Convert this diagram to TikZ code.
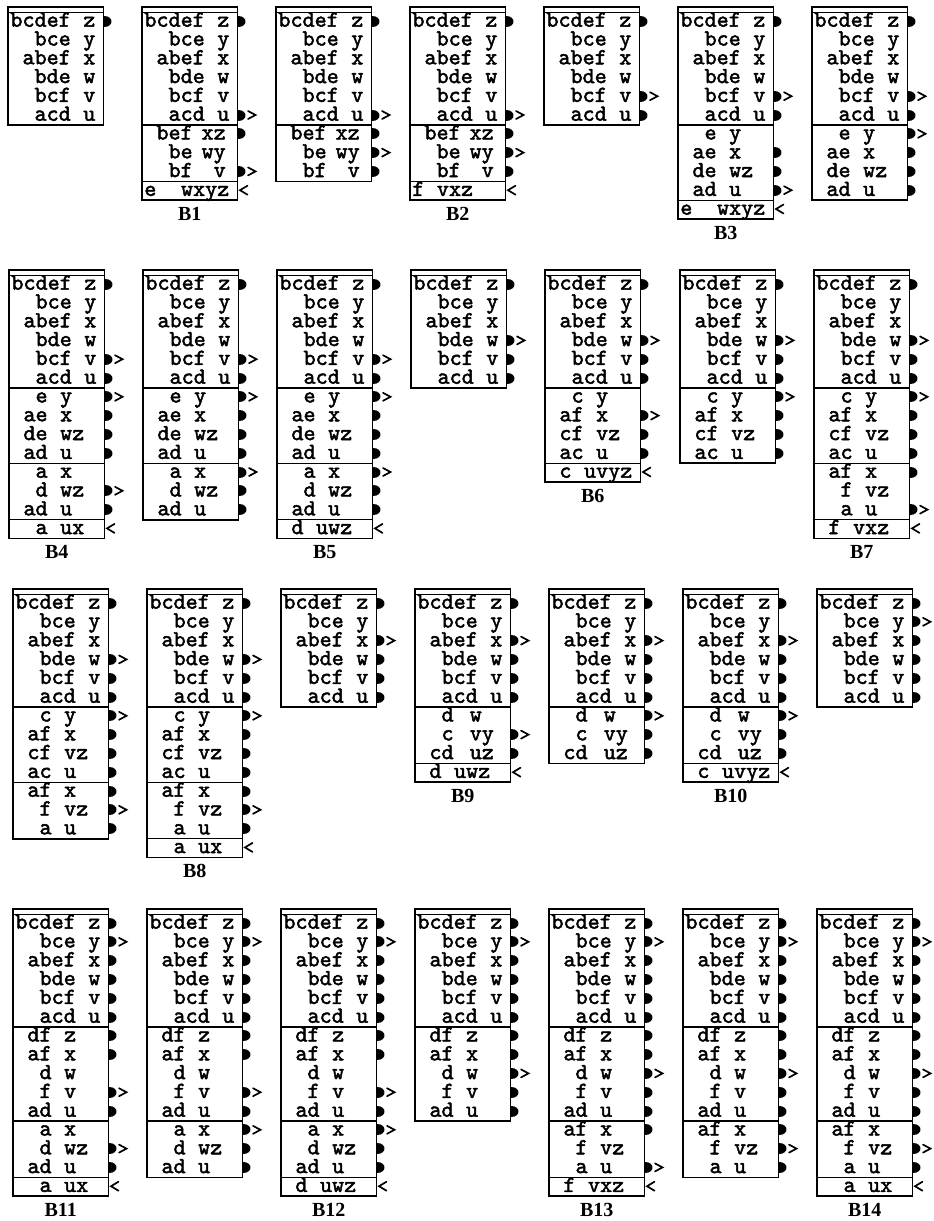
\documentclass[tikz,border=0pt]{standalone}
\usepackage{fontspec}
\newfontfamily\fdtt{lmmono10-regular.otf}[FakeBold=2]
\newfontfamily\labfont{Liberation Serif}
\newcounter{nd}
\tikzset{
  ttxt/.style={inner sep=0pt, text height=11pt, text depth=3pt, font=\fontsize{23}{23}\fdtt},
  labtxt/.style={inner sep=0pt, font=\fontsize{20}{20}\labfont\bfseries},
  boxline/.style={line width=1.8pt},
  sepline/.style={line width=1.4pt},
  mkline/.style={line width=1.7pt, line cap=round},
}
\def\cw{12.1}
\def\bw{95.5}
\def\rh{18.8}
\newcommand\tstart[2]{\xdef\tl{#1}\xdef\ttop{#2}\pgfmathsetmacro\tmp{#2+5.2}\xdef\ty{\tmp}}
\newcommand\mD[1]{\fill (\tl+\bw+0.5,#1-5.5) .. controls (\tl+\bw+10.5,#1-5.5) and (\tl+\bw+10.5,#1+5.5) .. (\tl+\bw+0.5,#1+5.5) -- cycle;}
\newcommand\mA[1]{\mD{#1}\draw[mkline] (\tl+\bw+10.5,#1-4) -- (\tl+\bw+18,#1) -- (\tl+\bw+10.5,#1+4);}
\newcommand\mL[1]{\draw[mkline] (\tl+\bw+10,#1-4.5) -- (\tl+\bw+2.5,#1) -- (\tl+\bw+10,#1+4.5);}
\newcommand\mN[1]{}
\newcommand\putrow[5]{%
  \stepcounter{nd}\node[ttxt,anchor=base east] (n\arabic{nd}) at (\tl+2.5+#4*\cw,\ty+14.5) {#1};
  \stepcounter{nd}\node[ttxt,anchor=base west] (n\arabic{nd}) at (\tl+2.5+#5*\cw,\ty+14.5) {#2};
  \csname m#3\endcsname{\ty+8.8}
  \pgfmathsetmacro\tmp{\ty+\rh}\xdef\ty{\tmp}}
\newcommand\srow[3]{\putrow{#1}{#2}{#3}{5}{6}}
\def\la{3}\def\lb{4}
\newcommand\lrow[3]{\putrow{#1}{#2}{#3}{\la}{\lb}}
\newcommand\hsep{\draw[sepline] (\tl,\ty) -- (\tl+\bw,\ty);}
\newcommand\secone[6]{\srow{bcdef}{z}{#1}\srow{bce}{y}{#2}\srow{abef}{x}{#3}\srow{bde}{w}{#4}\srow{bcf}{v}{#5}\srow{acd}{u}{#6}}
\newcommand\secBEF[3]{\hsep\def\la{4}\def\lb{4.7}\lrow{bef}{xz}{#1}\lrow{be}{wy}{#2}\lrow{bf}{\ v}{#3}}
\newcommand\secE[4]{\hsep\def\la{3}\def\lb{4}\lrow{e}{y}{#1}\lrow{ae}{x}{#2}\lrow{de}{wz}{#3}\lrow{ad}{u}{#4}}
\newcommand\secA[3]{\hsep\def\la{3}\def\lb{4}\lrow{a}{x}{#1}\lrow{d}{wz}{#2}\lrow{ad}{u}{#3}}
\newcommand\secC[4]{\hsep\def\la{3}\def\lb{4}\lrow{c}{y}{#1}\lrow{af}{x}{#2}\lrow{cf}{vz}{#3}\lrow{ac}{u}{#4}}
\newcommand\secAF[3]{\hsep\def\la{3}\def\lb{4}\lrow{af}{x}{#1}\lrow{f}{vz}{#2}\lrow{a}{u}{#3}}
\newcommand\secD[3]{\hsep\def\la{3}\def\lb{4.3}\lrow{d}{w}{#1}\lrow{c}{vy}{#2}\lrow{cd}{uz}{#3}}
\newcommand\secDF[5]{\hsep\def\la{3}\def\lb{4}\lrow{df}{z}{#1}\lrow{af}{x}{#2}\lrow{d}{w}{#3}\lrow{f}{v}{#4}\lrow{ad}{u}{#5}}
\newcommand\lastrow[4]{\hsep\putrow{#1}{#2}{L}{#3}{#4}}
\newcommand\tend[1]{%
  \draw[boxline] (\tl,\ttop) rectangle (\tl+\bw,\ty);
  \draw[sepline] (\tl,\ttop+5.2) -- (\tl+\bw,\ttop+5.2);
  \if\relax\detokenize{#1}\relax\else
  \stepcounter{nd}\node[labtxt,anchor=base] (n\arabic{nd}) at (\tl+\bw/2,\ty+20.5) {#1};\fi}
\begin{document}
\begin{tikzpicture}[x=1pt,y=-1pt]
\fill[white] (0,0) rectangle (934,1221);
\useasboundingbox (0,0) rectangle (934,1221);
% ---- row 1
\tstart{8}{7}\secone{D}{N}{N}{N}{N}{N}\tend{}
\tstart{142}{7}\secone{D}{N}{N}{N}{N}{A}\secBEF{D}{N}{A}\lastrow{e}{wxyz}{1}{3}\tend{B1}
\tstart{276}{7}\secone{D}{N}{N}{N}{N}{A}\secBEF{D}{A}{D}\tend{}
\tstart{410}{7}\secone{D}{N}{N}{N}{N}{A}\secBEF{D}{A}{D}\lastrow{f}{vxz}{1}{2}\tend{B2}
\tstart{544}{7}\secone{D}{N}{N}{N}{A}{D}\tend{}
\tstart{678}{7}\secone{D}{N}{N}{N}{A}{D}\secE{N}{D}{D}{A}\lastrow{e}{wxyz}{1}{3}\tend{B3}
\tstart{812}{7}\secone{D}{N}{N}{N}{A}{D}\secE{A}{D}{D}{D}\tend{}
% ---- row 2
\tstart{9}{270}\secone{D}{N}{N}{N}{A}{D}\secE{A}{D}{D}{D}\secA{N}{A}{D}\lastrow{a}{ux}{3}{4}\tend{B4}
\tstart{143}{270}\secone{D}{N}{N}{N}{A}{D}\secE{A}{D}{D}{D}\secA{A}{D}{D}\tend{}
\tstart{277}{270}\secone{D}{N}{N}{N}{A}{D}\secE{A}{D}{D}{D}\secA{A}{D}{D}\lastrow{d}{uwz}{2}{3}\tend{B5}
\tstart{411}{270}\secone{D}{N}{N}{A}{D}{D}\tend{}
\tstart{545}{270}\secone{D}{N}{N}{A}{D}{D}\secC{N}{A}{D}{D}\lastrow{c}{uvyz}{2}{3}\tend{B6}
\tstart{680}{270}\secone{D}{N}{N}{A}{D}{D}\secC{A}{D}{D}{D}\tend{}
\tstart{814}{270}\secone{D}{N}{N}{A}{D}{D}\secC{A}{D}{D}{D}\secAF{D}{N}{A}\lastrow{f}{vxz}{2}{3}\tend{B7}
% ---- row 3
\tstart{13}{589}\secone{D}{N}{N}{A}{D}{D}\secC{A}{D}{D}{D}\secAF{D}{A}{D}\tend{}
\tstart{147}{589}\secone{D}{N}{N}{A}{D}{D}\secC{A}{D}{D}{D}\secAF{D}{A}{D}\lastrow{a}{ux}{3}{4}\tend{B8}
\tstart{281}{589}\secone{D}{N}{A}{D}{D}{D}\tend{}
\tstart{415}{589}\secone{D}{N}{A}{D}{D}{D}\secD{N}{A}{D}\lastrow{d}{uwz}{2}{3}\tend{B9}
\tstart{549}{589}\secone{D}{N}{A}{D}{D}{D}\secD{A}{D}{D}\tend{}
\tstart{683}{589}\secone{D}{N}{A}{D}{D}{D}\secD{A}{D}{D}\lastrow{c}{uvyz}{2}{3}\tend{B10}
\tstart{817}{589}\secone{D}{A}{D}{D}{D}{D}\tend{}
% ---- row 4
\tstart{13}{909}\secone{D}{A}{D}{D}{D}{D}\secDF{D}{D}{N}{A}{D}\secA{N}{A}{D}\lastrow{a}{ux}{3}{4}\tend{B11}
\tstart{147}{909}\secone{D}{A}{D}{D}{D}{D}\secDF{D}{D}{N}{A}{D}\secA{A}{D}{D}\tend{}
\tstart{281}{909}\secone{D}{A}{D}{D}{D}{D}\secDF{D}{D}{N}{A}{D}\secA{A}{D}{D}\lastrow{d}{uwz}{2}{3}\tend{B12}
\tstart{415}{909}\secone{D}{A}{D}{D}{D}{D}\secDF{D}{D}{A}{D}{D}\tend{}
\tstart{549}{909}\secone{D}{A}{D}{D}{D}{D}\secDF{D}{D}{A}{D}{D}\secAF{D}{N}{A}\lastrow{f}{vxz}{2}{3}\tend{B13}
\tstart{683}{909}\secone{D}{A}{D}{D}{D}{D}\secDF{D}{D}{A}{D}{D}\secAF{D}{A}{D}\tend{}
\tstart{817}{909}\secone{D}{A}{D}{D}{D}{D}\secDF{D}{D}{A}{D}{D}\secAF{D}{A}{D}\lastrow{a}{ux}{3}{4}\tend{B14}
\end{tikzpicture}
\end{document}
